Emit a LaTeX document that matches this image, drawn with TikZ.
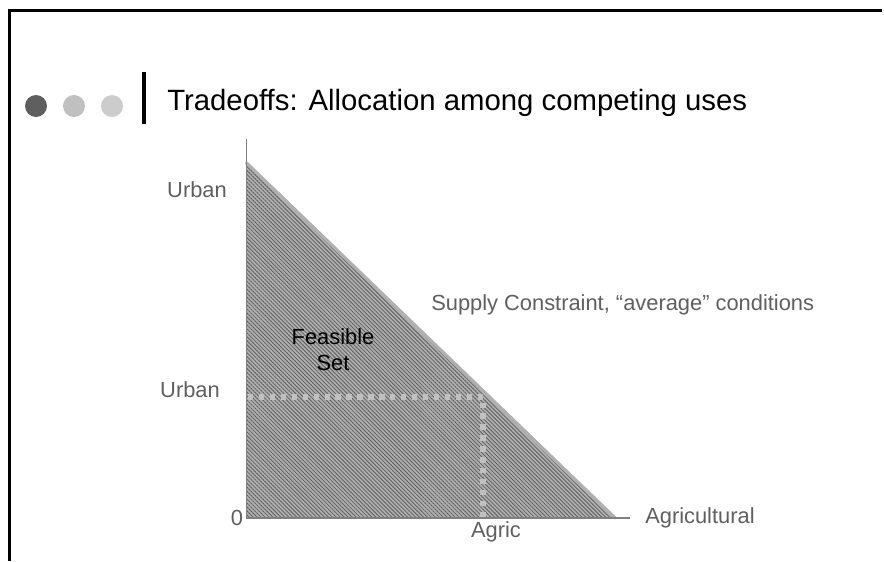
\documentclass[tikz,border=0pt]{standalone}
\usepackage{fontspec}
\setmainfont{Liberation Sans}
\usetikzlibrary{patterns.meta}

\definecolor{lblgray}{RGB}{95,95,95}
\definecolor{dotgray}{RGB}{192,192,192}
\definecolor{hatchdark}{RGB}{92,92,92}
\definecolor{hatchlight}{RGB}{176,176,176}

\begin{document}
\begin{tikzpicture}[x=0.75pt, y=-0.75pt,
    lbl/.style={lblgray, inner sep=0pt, font=\fontsize{16.4}{19.5}\selectfont},
    axisline/.style={draw=gray, line width=1pt},
    guide/.style={dotgray, line width=4pt, dash pattern=on 4pt off 4.2pt}]
        \useasboundingbox (0,0) rectangle (884,561);

        % frame and title
        \draw[line width=2.25pt] (882,10) -- (9.5,10) -- (9.5,561);
        \fill[fill={rgb,255:red,95;green,95;blue,95}] (36,106) circle (11);
        \fill[fill={rgb,255:red,192;green,192;blue,192}] (74,106) circle (11);
        \fill[fill={rgb,255:red,204;green,204;blue,204}] (112,106) circle (11);
        \draw[line width=3pt] (144,72) -- (144,124);
        \node[anchor=base west, inner sep=0pt, font=\fontsize{22}{26}\selectfont] (title) at (167,110) {Tradeoffs: Allocation among competing uses};

        \coordinate (O) at (246.5,518);
        \coordinate (ytop) at (246.5,139);
        \coordinate (xend) at (630,518);
        \coordinate (U) at (246.5,163);
        \coordinate (A) at (615,518);
        \coordinate (u0) at (248,397);
        \coordinate (pt) at (483,397);
        \coordinate (a0) at (483,518);

        % feasible set
        \path[preaction={fill=hatchlight}, pattern={Lines[angle=-45,distance=2.1pt,line width=0.6pt]}, pattern color=hatchdark] (U) -- (A) -- (O) -- cycle;
        \draw[hatchlight, line width=2.5pt, line cap=round] (U) -- (A);
        \draw[axisline] (ytop) -- (O) -- (xend);
        \draw[guide] (u0) -- (pt) -- (a0);

        \node[lbl] (urbantop) at (197,190) {Urban};
        \node[lbl] (urbanpt) at (190,390) {Urban};
        \node[lbl] (zero) at (237,518) {0};
        \node[lbl, anchor=north] (agric) at (496,521) {Agric};
        \node[lbl, anchor=west] (agricult) at (645,518) {Agricultural};
        \node[lbl, anchor=west] (supply) at (431,305) {Supply Constraint, “average” conditions};
        \node[lbl, black, align=center] (feasible) at (333,350) {Feasible\\Set};
    \end{tikzpicture}
\end{document}
